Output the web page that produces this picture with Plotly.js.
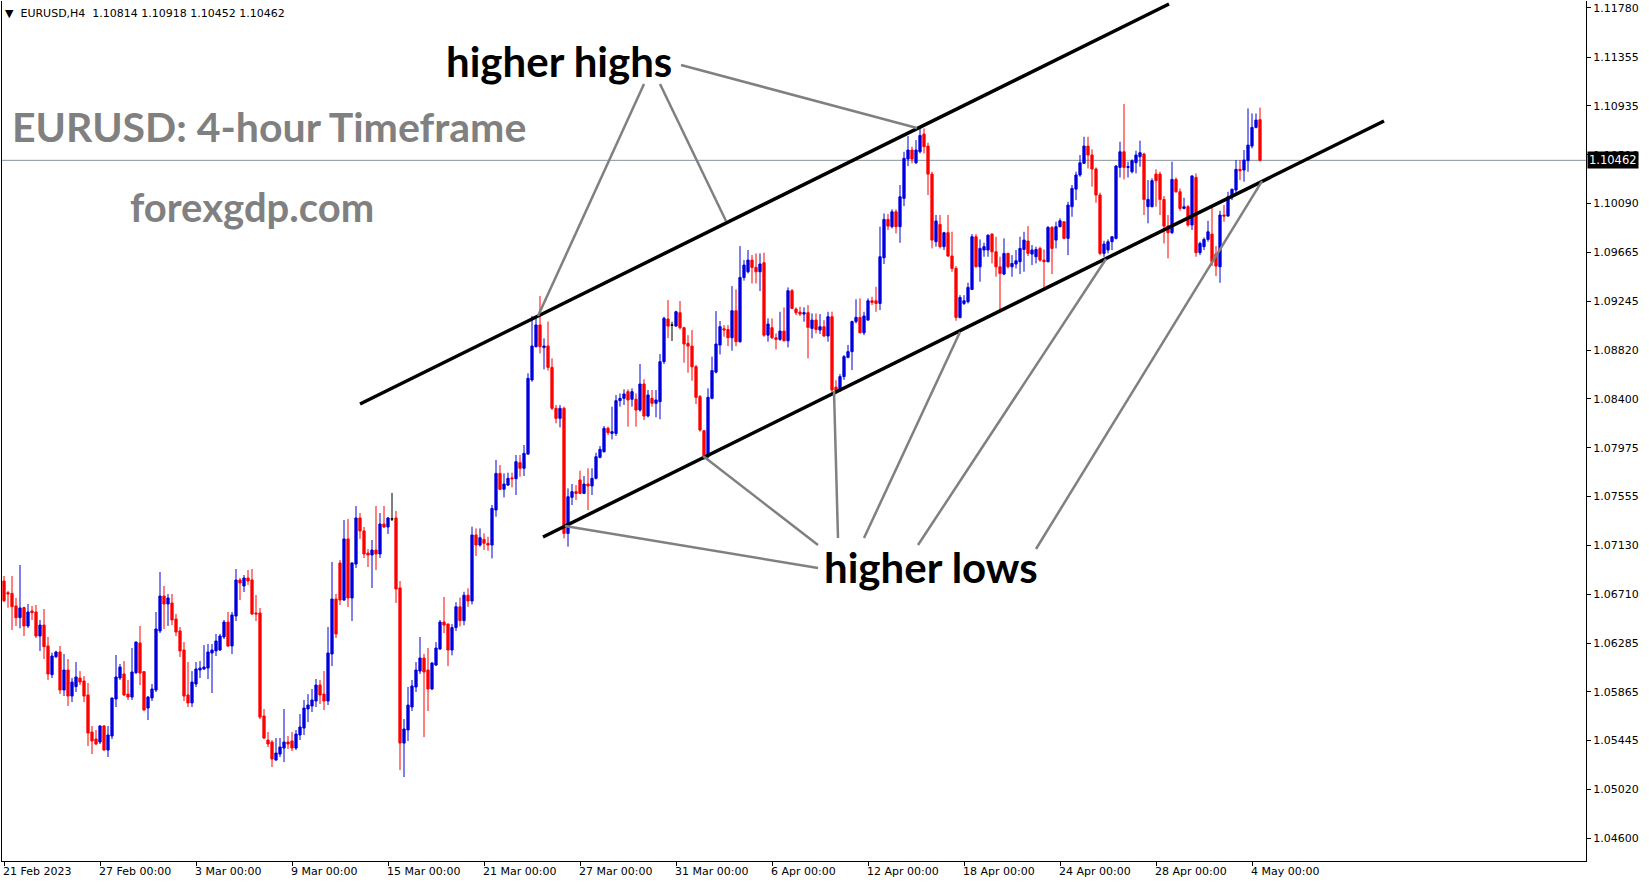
<!DOCTYPE html>
<html>
<head>
<meta charset="utf-8">
<script src="https://cdn.plot.ly/plotly-3.0.1.min.js"></script>
<style>
html,body{margin:0;padding:0;background:#fff;}
#chart{width:1649px;height:884px;}
</style>
</head>
<body>
<div id="chart"></div>
<script>
// ---- Data: EURUSD H4 candles (index 0 = 21 Feb 2023 00:00) ----
const symbol = "EURUSD";
const timeframe = "H4";

const open = [
1.06823,1.06722,1.06716,1.06607,1.06506,1.06593,1.06434,1.06564,1.06555,1.06347,
1.06442,1.06261,1.06013,1.06168,1.06209,1.05880,1.06053,1.05828,1.05909,1.05984,
1.05958,1.05837,1.05517,1.05456,1.05430,1.05569,1.05361,1.05482,1.05802,1.05984,
1.06019,1.05845,1.05819,1.06030,1.06287,1.06039,1.05724,1.05811,1.05880,1.06391,
1.06693,1.06624,1.06633,1.06494,1.06391,1.06226,1.05837,1.05768,1.05932,1.06053,
1.06062,1.06070,1.06200,1.06218,1.06226,1.06339,1.06468,1.06261,1.06520,1.06832,
1.06780,1.06849,1.06832,1.06546,1.06546,1.05655,1.05447,1.05430,1.05274,1.05326,
1.05378,1.05430,1.05439,1.05378,1.05491,1.05551,1.05716,1.05742,1.05785,1.05923,
1.05845,1.05785,1.06192,1.06667,1.06979,1.06659,1.07187,1.06676,1.06970,1.07368,
1.07256,1.07065,1.07048,1.07091,1.07057,1.07316,1.07290,1.07360,1.07368,1.06763,
1.05421,1.05534,1.05733,1.05906,1.06044,1.06157,1.06053,1.05889,1.06096,1.06235,
1.06468,1.06451,1.06226,1.06420,1.06600,1.06480,1.06700,1.06650,1.07221,1.07134,
1.07183,1.07149,1.07134,1.07437,1.07754,1.07616,1.07653,1.07715,1.07708,1.07847,
1.07798,1.07921,1.08562,1.08850,1.09038,1.08842,1.08856,1.08671,1.08317,1.08230,
1.08317,1.07235,1.07547,1.07596,1.07697,1.07581,1.07662,1.07645,1.07711,1.07893,
1.07942,1.08144,1.08100,1.08100,1.08383,1.08403,1.08461,1.08395,1.08395,1.08302,
1.08527,1.08250,1.08403,1.08360,1.08374,1.08720,1.09089,1.09037,1.09028,1.09144,
1.09014,1.08878,1.08855,1.08677,1.08418,1.08123,1.07898,1.08403,1.08630,1.08864,
1.09005,1.08999,1.08927,1.09161,1.08893,1.09449,1.09498,1.09599,1.09536,1.09498,
1.09576,1.08950,1.09014,1.08927,1.08913,1.08985,1.08901,1.09334,1.09175,1.09149,
1.09132,1.09144,1.09008,1.09080,1.08994,1.09023,1.08942,1.09109,1.08500,1.08475,
1.08591,1.08758,1.08807,1.09067,1.09103,1.08970,1.09080,1.09247,1.09247,1.09224,
1.09619,1.09951,1.09888,1.10017,1.09888,1.10133,1.10473,1.10551,1.10441,1.10536,
1.10689,1.10585,1.10343,1.09758,1.09908,1.09715,1.09836,1.09634,1.09527,1.09103,
1.09224,1.09239,1.09345,1.09801,1.09541,1.09686,1.09686,1.09824,1.09671,1.09541,
1.09478,1.09657,1.09541,1.09565,1.09585,1.09691,1.09764,1.09651,1.09628,1.09700,
1.09599,1.09585,1.09882,1.09772,1.09888,1.09931,1.09787,1.10061,1.10213,1.10335,
1.10436,1.10585,1.10508,1.10387,1.10162,1.09657,1.09686,1.09758,1.09787,1.10401,
1.10536,1.10401,1.10363,1.10441,1.10493,1.10516,1.10061,1.10061,1.10343,1.10343,
1.10124,1.09893,1.09836,1.10297,1.10190,1.10046,1.10061,1.09902,1.10314,1.09663,
1.09715,1.09778,1.09824,1.09651,1.09541,1.09989,1.09980,1.10147,1.10205,1.10384,
1.10378,1.10459,1.10585,1.10747,1.10814];

const high = [
1.06866,1.06737,1.06866,1.06676,1.06962,1.06601,1.06624,1.06607,1.06616,1.06486,
1.06581,1.06339,1.06203,1.06220,1.06261,1.06192,1.06148,1.05984,1.06122,1.06044,
1.06001,1.05941,1.05569,1.05534,1.05575,1.05577,1.05569,1.05815,1.06183,1.06105,
1.06131,1.05967,1.06243,1.06300,1.06434,1.06044,1.05828,1.05932,1.06555,1.06901,
1.06780,1.06711,1.06711,1.06538,1.06425,1.06295,1.06122,1.06044,1.06122,1.06131,
1.06269,1.06278,1.06278,1.06365,1.06365,1.06486,1.06555,1.06555,1.06927,1.06849,
1.06875,1.06918,1.06927,1.06702,1.06590,1.05716,1.05517,1.05447,1.05465,1.05465,
1.05716,1.05482,1.05517,1.05534,1.05672,1.05794,1.05845,1.05889,1.05975,1.05967,
1.06044,1.06425,1.06988,1.06711,1.07005,1.07351,1.07360,1.06985,1.07472,1.07411,
1.07290,1.07100,1.07178,1.07472,1.07411,1.07472,1.07377,1.07585,1.07429,1.06823,
1.05629,1.05906,1.05967,1.06122,1.06339,1.06192,1.06243,1.06120,1.06295,1.06486,
1.06685,1.06455,1.06450,1.06640,1.06680,1.06730,1.06760,1.07293,1.07278,1.07278,
1.07235,1.07206,1.07480,1.07870,1.07826,1.07754,1.07760,1.07760,1.07913,1.07913,
1.08000,1.08620,1.09116,1.09095,1.09289,1.08922,1.09067,1.08749,1.08346,1.08346,
1.08331,1.07624,1.07662,1.07653,1.07777,1.07731,1.07798,1.07798,1.07933,1.07991,
1.08164,1.08158,1.08331,1.08432,1.08446,1.08481,1.08481,1.08490,1.08446,1.08700,
1.08568,1.08475,1.08475,1.08475,1.08787,1.09109,1.09253,1.09066,1.09161,1.09245,
1.09023,1.08950,1.08994,1.08692,1.08432,1.08129,1.08490,1.08764,1.09158,1.09072,
1.09037,1.09037,1.09374,1.09346,1.09720,1.09599,1.09686,1.09643,1.09657,1.09657,
1.09663,1.09095,1.09095,1.08965,1.09152,1.09190,1.09363,1.09349,1.09190,1.09196,
1.09190,1.09210,1.09138,1.09138,1.09132,1.09080,1.09152,1.09153,1.08560,1.08614,
1.08778,1.08865,1.09075,1.09260,1.09268,1.09152,1.09268,1.09282,1.09368,1.09888,
1.10003,1.09997,1.10038,1.10038,1.10248,1.10536,1.10672,1.10580,1.10637,1.10753,
1.10738,1.10614,1.10363,1.09989,1.09989,1.09844,1.09989,1.09844,1.09547,1.09296,
1.09296,1.09403,1.09824,1.09824,1.09778,1.09749,1.09820,1.09830,1.09801,1.09628,
1.09787,1.09663,1.09642,1.09686,1.09801,1.09844,1.09893,1.09729,1.09715,1.09715,
1.09691,1.09893,1.09893,1.09931,1.09960,1.09935,1.10104,1.10248,1.10363,1.10508,
1.10666,1.10666,1.10557,1.10401,1.10182,1.09766,1.09778,1.09807,1.10421,1.10623,
1.10949,1.10450,1.10470,1.10545,1.10632,1.10528,1.10291,1.10306,1.10384,1.10363,
1.10153,1.09989,1.10450,1.10314,1.10219,1.10138,1.10075,1.10335,1.10349,1.09758,
1.09795,1.09939,1.10061,1.09720,1.10026,1.10075,1.10190,1.10219,1.10464,1.10464,
1.10551,1.10911,1.10868,1.10868,1.10918];

const low = [
1.06640,1.06592,1.06399,1.06434,1.06414,1.06347,1.06417,1.06486,1.06330,1.06218,
1.06148,1.05967,1.05984,1.06157,1.05845,1.05828,1.05742,1.05776,1.05863,1.05923,
1.05776,1.05396,1.05326,1.05404,1.05413,1.05355,1.05300,1.05456,1.05733,1.05967,
1.05828,1.05794,1.05794,1.06019,1.05923,1.05700,1.05621,1.05785,1.05863,1.06373,
1.06408,1.06434,1.06442,1.06347,1.06166,1.05785,1.05733,1.05733,1.05906,1.05984,
1.06053,1.05975,1.05854,1.06174,1.06218,1.06321,1.06252,1.06192,1.06477,1.06659,
1.06728,1.06789,1.06529,1.06477,1.05629,1.05456,1.05387,1.05214,1.05270,1.05300,
1.05257,1.05370,1.05352,1.05361,1.05447,1.05491,1.05603,1.05690,1.05733,1.05759,
1.05707,1.05750,1.06088,1.06330,1.06616,1.06650,1.06598,1.06477,1.06936,1.07187,
1.07022,1.06944,1.06763,1.06918,1.07022,1.07282,1.07230,1.07342,1.06633,1.05188,
1.05127,1.05439,1.05698,1.05863,1.06019,1.05473,1.05698,1.05880,1.06088,1.06226,
1.06373,1.06088,1.06180,1.06390,1.06430,1.06440,1.06600,1.06620,1.07039,1.07120,
1.07091,1.07085,1.07019,1.07379,1.07610,1.07547,1.07645,1.07633,1.07567,1.07725,
1.07731,1.07913,1.08547,1.08844,1.08792,1.08654,1.08643,1.08302,1.08187,1.08152,
1.07192,1.07120,1.07480,1.07524,1.07575,1.07575,1.07437,1.07567,1.07702,1.07884,
1.07933,1.08086,1.08048,1.08077,1.08331,1.08346,1.08158,1.08331,1.08158,1.08288,
1.08216,1.08239,1.08331,1.08239,1.08222,1.08700,1.08924,1.08899,1.09023,1.08999,
1.08711,1.08625,1.08555,1.08354,1.08115,1.07870,1.07884,1.08395,1.08619,1.08783,
1.08936,1.08855,1.08815,1.08855,1.08884,1.09421,1.09484,1.09397,1.09397,1.09331,
1.08936,1.08893,1.08916,1.08826,1.08901,1.08895,1.08844,1.09175,1.09124,1.09115,
1.09066,1.08749,1.08922,1.08965,1.08959,1.08936,1.08893,1.08446,1.08440,1.08460,
1.08562,1.08749,1.08648,1.09052,1.08965,1.08950,1.09075,1.09210,1.09152,1.09167,
1.09565,1.09859,1.09873,1.09830,1.09749,1.10066,1.10412,1.10436,1.10430,1.10522,
1.10522,1.10162,1.09700,1.09715,1.09700,1.09686,1.09628,1.09498,1.09074,1.09094,
1.09210,1.09224,1.09340,1.09536,1.09412,1.09628,1.09628,1.09570,1.09455,1.09161,
1.09469,1.09527,1.09455,1.09527,1.09478,1.09498,1.09634,1.09556,1.09570,1.09585,
1.09354,1.09580,1.09478,1.09700,1.09882,1.09780,1.09642,1.09974,1.10118,1.10320,
1.10430,1.10392,1.10234,1.10095,1.09642,1.09628,1.09657,1.09686,1.09778,1.10314,
1.10297,1.10314,1.10349,1.10349,1.10407,1.09989,1.09917,1.10055,1.10061,1.09989,
1.09743,1.09614,1.09824,1.10182,1.10026,1.10038,1.09888,1.09859,1.09628,1.09642,
1.09686,1.09758,1.09547,1.09461,1.09403,1.09931,1.09974,1.10118,1.10176,1.10291,
1.10277,1.10363,1.10565,1.10738,1.10452];

const close = [
1.06653,1.06711,1.06601,1.06506,1.06590,1.06434,1.06555,1.06549,1.06347,1.06442,
1.06255,1.06019,1.06174,1.06209,1.05880,1.06053,1.05828,1.05949,1.05993,1.05949,
1.05828,1.05508,1.05439,1.05413,1.05569,1.05361,1.05491,1.05811,1.05993,1.06079,
1.05837,1.05819,1.06036,1.06295,1.06027,1.05707,1.05819,1.05889,1.06408,1.06693,
1.06624,1.06676,1.06486,1.06382,1.06218,1.05828,1.05768,1.05949,1.06062,1.06070,
1.06079,1.06209,1.06226,1.06304,1.06347,1.06468,1.06261,1.06529,1.06832,1.06806,
1.06849,1.06823,1.06538,1.06538,1.05646,1.05465,1.05413,1.05283,1.05335,1.05387,
1.05430,1.05413,1.05378,1.05499,1.05560,1.05724,1.05750,1.05794,1.05923,1.05837,
1.05785,1.06200,1.06667,1.06365,1.06659,1.07187,1.06676,1.06979,1.07368,1.07256,
1.07057,1.07048,1.07091,1.07057,1.07316,1.07290,1.07368,1.07360,1.06754,1.05421,
1.05543,1.05750,1.05915,1.06053,1.06157,1.06036,1.05889,1.06114,1.06243,1.06468,
1.06442,1.06226,1.06420,1.06600,1.06480,1.06700,1.06650,1.07221,1.07134,1.07198,
1.07149,1.07134,1.07451,1.07754,1.07616,1.07662,1.07711,1.07708,1.07855,1.07798,
1.07927,1.08576,1.08856,1.09038,1.08850,1.08856,1.08671,1.08317,1.08230,1.08317,
1.07235,1.07552,1.07596,1.07581,1.07581,1.07662,1.07645,1.07711,1.07898,1.07962,
1.08144,1.08106,1.08115,1.08383,1.08403,1.08441,1.08389,1.08461,1.08302,1.08527,
1.08250,1.08432,1.08360,1.08389,1.08720,1.09095,1.09028,1.09037,1.09152,1.09014,
1.08873,1.08855,1.08676,1.08412,1.08129,1.07898,1.08412,1.08643,1.08873,1.09023,
1.08994,1.08927,1.09161,1.08893,1.09449,1.09556,1.09599,1.09536,1.09498,1.09565,
1.08950,1.09046,1.08927,1.08913,1.08985,1.08901,1.09334,1.09181,1.09144,1.09132,
1.09144,1.09017,1.09080,1.08999,1.09023,1.08942,1.09109,1.08475,1.08470,1.08591,
1.08764,1.08807,1.09067,1.09104,1.08970,1.09115,1.09247,1.09233,1.09224,1.09628,
1.09951,1.09893,1.10017,1.09888,1.10147,1.10479,1.10551,1.10473,1.10551,1.10677,
1.10580,1.10343,1.09772,1.09937,1.09715,1.09836,1.09634,1.09527,1.09103,1.09276,
1.09247,1.09363,1.09801,1.09541,1.09700,1.09715,1.09815,1.09671,1.09541,1.09484,
1.09657,1.09541,1.09570,1.09593,1.09700,1.09772,1.09657,1.09686,1.09691,1.09599,
1.09585,1.09882,1.09700,1.09888,1.09939,1.09787,1.10075,1.10219,1.10335,1.10441,
1.10585,1.10508,1.10387,1.10162,1.09657,1.09738,1.09758,1.09801,1.10412,1.10536,
1.10401,1.10407,1.10459,1.10508,1.10528,1.10124,1.10124,1.10286,1.10286,1.10124,
1.09893,1.09836,1.10297,1.10190,1.10046,1.10061,1.09902,1.10326,1.09663,1.09743,
1.09778,1.09844,1.09585,1.09547,1.09989,1.09980,1.10147,1.10211,1.10384,1.10372,
1.10464,1.10594,1.10747,1.10810,1.10462];

// Time axis: candle index of each date label (4 trading days = 24 candles apart)
const xTickIdx = [0,24,48,72,96,120,144,168,192,216,240,264,288,312];
const xTickText = ["21 Feb 2023","27 Feb 00:00","3 Mar 00:00","9 Mar 00:00","15 Mar 00:00",
  "21 Mar 00:00","27 Mar 00:00","31 Mar 00:00","6 Apr 00:00","12 Apr 00:00",
  "18 Apr 00:00","24 Apr 00:00","28 Apr 00:00","4 May 00:00"];

// Price axis ticks
const yTickVals = [1.11780,1.11355,1.10935,1.10510,1.10090,1.09665,1.09245,1.08820,1.08400,
  1.07975,1.07555,1.07130,1.06710,1.06285,1.05865,1.05445,1.05020,1.04600];

// Trend channel lines: [idx0, price0, idx1, price1]
const channelLines = [
  [89, 1.08354, 291.25, 1.11814],
  [134.75, 1.07204, 345, 1.10802]
];
// Pointer lines from labels to swing points: [idx0, price0, idx1, price1]
const pointerLines = [
  [160, 1.11122, 133.5, 1.09115],
  [164, 1.11122, 180.5, 1.09937],
  [169.25, 1.11287, 228.25, 1.10742],
  [203.5, 1.06935, 140.25, 1.07299],
  [203.5, 1.07134, 174.75, 1.07904],
  [208.5, 1.07195, 207.5, 1.08467],
  [215, 1.07195, 239, 1.08977],
  [228.5, 1.07134, 275.5, 1.09609],
  [258, 1.07100, 314.5, 1.10283]
];
// Text labels: [text, idx, price, color, size]
const textLabels = [
  ["higher highs", 138.75, 1.11322, "#000000", 42],
  ["EURUSD: 4-hour Timeframe", 66.25, 1.10752, "#808080", 41],
  ["forexgdp.com", 62, 1.10060, "#808080", 40],
  ["higher lows", 231.75, 1.06945, "#000000", 42]
];

// ---- Build traces ----
const groups = {
  up: {x:[],o:[],h:[],l:[],c:[], color:"#0000dd"},
  dn: {x:[],o:[],h:[],l:[],c:[], color:"#ff0000"},
  eq: {x:[],o:[],h:[],l:[],c:[], color:"#000000"}
};
for (let i = 0; i < open.length; i++) {
  const k = close[i] > open[i] ? "up" : (close[i] < open[i] ? "dn" : "eq");
  const g = groups[k];
  g.x.push(i); g.o.push(open[i]); g.h.push(high[i]); g.l.push(low[i]); g.c.push(close[i]);
}
const traces = Object.values(groups).map(g => ({
  type: "candlestick",
  x: g.x, open: g.o, high: g.h, low: g.l, close: g.c,
  increasing: {line: {color: g.color, width: 1}, fillcolor: g.color},
  decreasing: {line: {color: g.color, width: 1}, fillcolor: g.color},
  whiskerwidth: 0,
  hoverinfo: "skip",
  showlegend: false
}));

const last = open.length - 1;
const lastClose = close[last];

const shapes = [];
shapes.push({type:"line", xref:"paper", x0:0, x1:1, yref:"y", y0:lastClose, y1:lastClose,
  line:{color:"#8a939c", width:1}, layer:"below"});
channelLines.forEach(l => shapes.push({type:"line", xref:"x", yref:"y",
  x0:l[0], y0:l[1], x1:l[2], y1:l[3], line:{color:"#000000", width:3.5}, layer:"above"}));
pointerLines.forEach(l => shapes.push({type:"line", xref:"x", yref:"y",
  x0:l[0], y0:l[1], x1:l[2], y1:l[3], line:{color:"#808080", width:2.5}, layer:"above"}));

const annotations = [];
textLabels.forEach(t => annotations.push({
  text: t[0], x: t[1], y: t[2], xref:"x", yref:"y", showarrow:false,
  xanchor:"center", yanchor:"middle",
  font:{family:"Lato, 'Open Sans', sans-serif", size:t[4], color:t[3], weight:700}
}));
annotations.push({
  text: "\u25BC  " + symbol + "," + timeframe + "  " + open[last].toFixed(5) + " " +
        high[last].toFixed(5) + " " + low[last].toFixed(5) + " " + close[last].toFixed(5),
  xref:"paper", yref:"paper", x:0, y:1, xanchor:"left", yanchor:"top", xshift:1, yshift:-4,
  showarrow:false, font:{family:"DejaVu Sans", size:11, color:"#000"}
});
annotations.push({
  text: lastClose.toFixed(5), xref:"paper", yref:"y", x:1, y:lastClose,
  xanchor:"left", yanchor:"middle", xshift:1, showarrow:false,
  bgcolor:"#000000", borderpad:1,
  font:{family:"DejaVu Sans", size:11.5, color:"#ffffff"}
});

const layout = {
  width:1649, height:884,
  margin:{l:2, r:63, t:1, b:23, pad:0},
  paper_bgcolor:"#ffffff", plot_bgcolor:"#ffffff",
  showlegend:false, hovermode:false,
  boxgap:0.25, boxgroupgap:0.25,
  xaxis:{
    type:"linear", range:[-0.5, 395.5], fixedrange:true,
    rangeslider:{visible:false},
    tickmode:"array", tickvals:xTickIdx, ticktext:xTickText,
    ticks:"outside", ticklen:4, tickcolor:"#000", tickwidth:1,
    ticklabelposition:"outside right", ticklabelshift:-2,
    showline:true, linecolor:"#000", linewidth:1, mirror:false,
    showgrid:false, zeroline:false,
    tickfont:{family:"DejaVu Sans", size:11, color:"#000"}
  },
  yaxis:{
    side:"right", range:[1.04401, 1.118403], fixedrange:true,
    tickmode:"array", tickvals:yTickVals, ticktext:yTickVals.map(v => v.toFixed(5)),
    ticks:"outside", ticklen:4, tickcolor:"#000", tickwidth:1,
    showline:true, linecolor:"#000", linewidth:1, mirror:true,
    showgrid:false, zeroline:false,
    tickfont:{family:"DejaVu Sans", size:11, color:"#000"}
  },
  shapes: shapes,
  annotations: annotations
};

Plotly.newPlot("chart", traces, layout, {staticPlot:true, displayModeBar:false});
</script>
</body>
</html>
